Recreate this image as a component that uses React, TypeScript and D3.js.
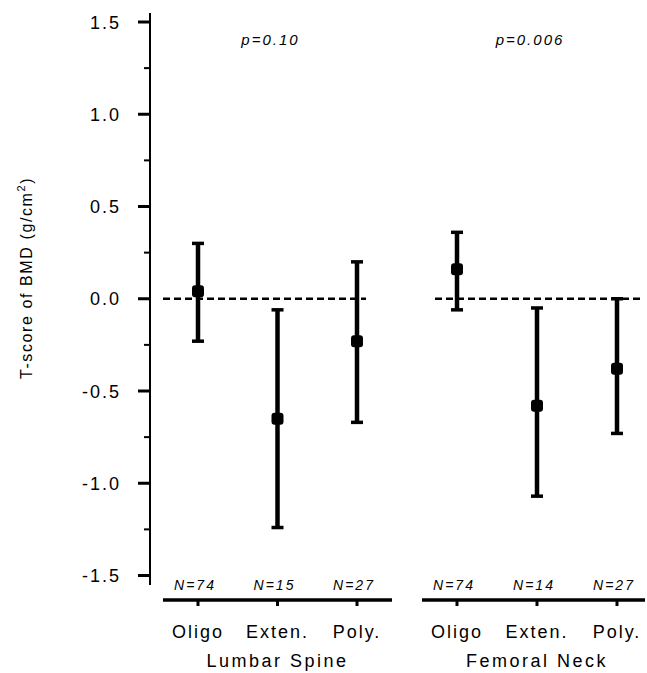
import React from 'react'
import * as d3 from 'd3'

// Data
const categories = ['Oligo', 'Exten.', 'Poly.']
const sites = ['Lumbar Spine', 'Femoral Neck']
const pValues = ['p=0.10', 'p=0.006']
const nLabels = [
  ['N=74', 'N=15', 'N=27'],
  ['N=74', 'N=14', 'N=27'],
]
const means = [
  [0.04, -0.65, -0.23],
  [0.16, -0.58, -0.38],
]
const upper = [
  [0.30, -0.06, 0.20],
  [0.36, -0.05, 0.00],
]
const lower = [
  [-0.23, -1.24, -0.67],
  [-0.06, -1.07, -0.73],
]
const yTicks = [-1.5, -1.0, -0.5, 0.0, 0.5, 1.0, 1.5]
const yMinorTicks = [-1.25, -0.75, -0.25, 0.25, 0.75, 1.25]

const width = 647
const height = 673
const font = '"Liberation Sans", Arial, sans-serif'

// plain hyphen for negatives, like the original
const fmt = (v: number) => d3.format('.1f')(v).replace('\u2212', '-')

export default function App() {
  // Scales
  const yScale = d3.scaleLinear().domain([-1.5, 1.5]).range([575.5, 22])
  const xScales = [
    d3.scaleLinear().domain([0, 2]).range([198, 357]),
    d3.scaleLinear().domain([0, 2]).range([457, 617]),
  ]
  // axis segment and dashed zero line extents per panel
  const axisExtent = [
    [163, 392],
    [422, 645],
  ]
  const zeroExtent = [
    [163, 366],
    [435, 640],
  ]
  const axisY = 600
  const y0 = yScale(0)

  return (
    <svg width={width} height={height} style={{ position: 'absolute', left: 0, top: 0, background: '#fff' }}>
      <rect x={0} y={0} width={width} height={height} fill="#fff" />

      {/* y axis */}
      <line x1={150} x2={150} y1={13} y2={585} stroke="#000" strokeWidth={2} />
      {yTicks.map((t) => (
        <g key={'t' + t}>
          <line x1={138} x2={150} y1={yScale(t)} y2={yScale(t)} stroke="#000" strokeWidth={3} />
          <text
            x={121}
            y={yScale(t) + 6.5}
            textAnchor="end"
            fontFamily={font}
            fontSize={18}
            letterSpacing={2}
            fill="#000"
          >
            {fmt(t)}
          </text>
        </g>
      ))}
      {yMinorTicks.map((t) => (
        <line key={'m' + t} x1={144} x2={150} y1={yScale(t)} y2={yScale(t)} stroke="#000" strokeWidth={2} />
      ))}

      {/* y label */}
      <text
        transform="translate(32,278) rotate(-90)"
        textAnchor="middle"
        fontFamily={font}
        fontSize={16}
        letterSpacing={1.6}
        fill="#000"
      >
        T-score of BMD (g/cm
        <tspan dy={-7} fontSize={11}>2</tspan>
        <tspan dy={7}>)</tspan>
      </text>

      {sites.map((site, g) => {
        const x = xScales[g]
        return (
          <g key={site}>
            {/* dashed zero line */}
            <line
              x1={zeroExtent[g][0]}
              x2={zeroExtent[g][1]}
              y1={y0}
              y2={y0}
              stroke="#000"
              strokeWidth={2.5}
              strokeDasharray="7,4"
            />

            {/* p value */}
            <text
              x={(x(0) + x(2)) / 2 - 7}
              y={45}
              textAnchor="middle"
              fontFamily={font}
              fontSize={15}
              fontStyle="italic"
              letterSpacing={2}
              fill="#000"
            >
              {pValues[g]}
            </text>

            {/* bottom axis */}
            <line
              x1={axisExtent[g][0]}
              x2={axisExtent[g][1]}
              y1={axisY}
              y2={axisY}
              stroke="#000"
              strokeWidth={3.5}
            />

            {categories.map((c, i) => (
              <g key={c}>
                {/* error bar */}
                <line
                  x1={x(i)}
                  x2={x(i)}
                  y1={yScale(upper[g][i])}
                  y2={yScale(lower[g][i])}
                  stroke="#000"
                  strokeWidth={4.5}
                />
                <line
                  x1={x(i) - 6}
                  x2={x(i) + 6}
                  y1={yScale(upper[g][i])}
                  y2={yScale(upper[g][i])}
                  stroke="#000"
                  strokeWidth={3.5}
                />
                <line
                  x1={x(i) - 6}
                  x2={x(i) + 6}
                  y1={yScale(lower[g][i])}
                  y2={yScale(lower[g][i])}
                  stroke="#000"
                  strokeWidth={3.5}
                />
                <rect
                  x={x(i) - 6}
                  y={yScale(means[g][i]) - 6}
                  width={12}
                  height={12}
                  rx={3}
                  fill="#000"
                />

                {/* category tick */}
                <line x1={x(i)} x2={x(i)} y1={axisY} y2={axisY + 6} stroke="#000" strokeWidth={3} />

                {/* N label */}
                <text
                  x={x(i) - 3}
                  y={590}
                  textAnchor="middle"
                  fontFamily={font}
                  fontSize={14}
                  fontStyle="italic"
                  letterSpacing={2}
                  fill="#000"
                >
                  {nLabels[g][i]}
                </text>

                {/* category label */}
                <text
                  x={x(i)}
                  y={638}
                  textAnchor="middle"
                  fontFamily={font}
                  fontSize={18}
                  letterSpacing={2}
                  fill="#000"
                >
                  {c}
                </text>
              </g>
            ))}

            {/* site label */}
            <text
              x={x(1)}
              y={667}
              textAnchor="middle"
              fontFamily={font}
              fontSize={18}
              letterSpacing={2.5}
              fill="#000"
            >
              {site}
            </text>
          </g>
        )
      })}
    </svg>
  )
}
